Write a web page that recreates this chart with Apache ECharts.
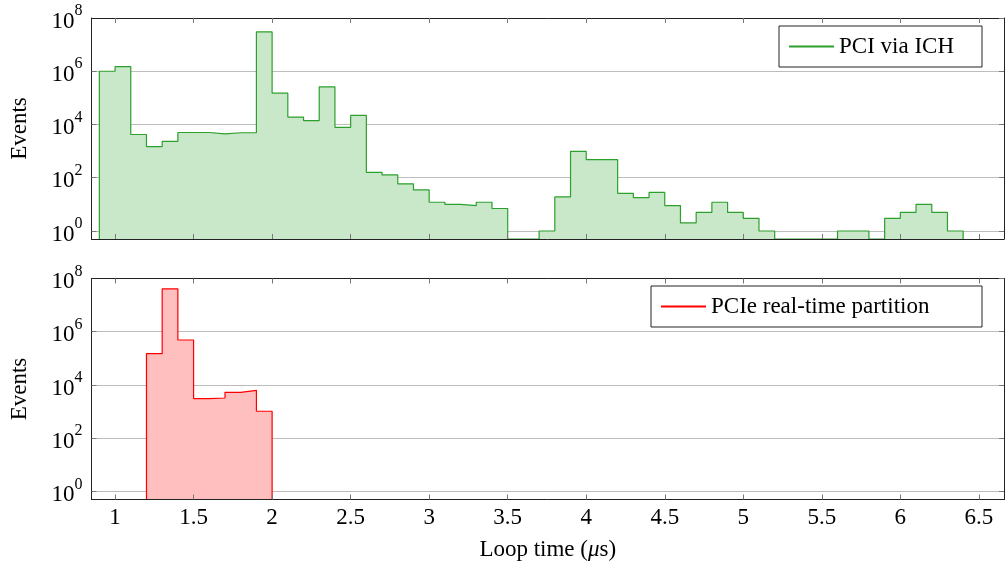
<!DOCTYPE html>
<html>
<head>
<meta charset="utf-8">
<script src="https://cdn.jsdelivr.net/npm/echarts@6/dist/echarts.min.js"></script>
<style>
  html, body { margin: 0; padding: 0; background: #fff; }
  #chart { width: 1005px; height: 570px; }
</style>
</head>
<body>
<div id="chart"></div>
<script>
// ---- Data (histogram bin edges and event counts) ----
const pciEdges = [0.9, 1.0, 1.1, 1.2, 1.3, 1.4, 1.5, 1.6, 1.7, 1.8, 1.9, 2.0, 2.1, 2.2, 2.3, 2.4, 2.5, 2.6, 2.7, 2.8,
  2.9, 3.0, 3.1, 3.2, 3.3, 3.4, 3.5, 3.6, 3.7, 3.8, 3.9, 4.0, 4.1, 4.2, 4.3, 4.4, 4.5, 4.6, 4.7, 4.8,
  4.9, 5.0, 5.1, 5.2, 5.3, 5.4, 5.5, 5.6, 5.7, 5.8, 5.9, 6.0, 6.1, 6.2, 6.3, 6.4];
const pciCounts = [1.0e6, 1.5e6, 4200, 1480, 2340, 5000, 5000, 4450, 4900, 4900,
  3.0e7, 1.5e5, 1.9e4, 1.4e4, 2.6e5, 7800, 2.2e4, 158, 128, 59,
  35, 12, 10, 9, 12, 7, 0, 0, 1, 19,
  980, 475, 475, 26, 18, 28, 9, 2, 5, 12,
  5, 3, 1, 0, 0, 0, 0, 1, 1, 0,
  3, 5, 10, 5, 1];
const pcieEdges = [1.2, 1.3, 1.4, 1.5, 1.6, 1.7, 1.8, 1.9, 2.0];
const pcieCounts = [1.5e5, 4.1e7, 4.9e5, 3100, 3250, 5300, 6300, 1030];

const xTickValues = [1, 1.5, 2, 2.5, 3, 3.5, 4, 4.5, 5, 5.5, 6, 6.5];
const yTickValues = [1, 1e2, 1e4, 1e6, 1e8];

const seriesNames = ['PCI via ICH', 'PCIe real-time partition'];

// ---- Axis limits ----
const X_MIN = 0.85, X_MAX = 6.66;
const Y_MIN = 0.5, Y_MAX = 1e8;

const FONT = 'Liberation Serif';
const FS = 23;

// Histogram outline: each bin contributes its left and right top corners;
// empty bins sit on the axis floor.
function stepData(edges, counts) {
  const pts = [[edges[0], Y_MIN]];
  for (let i = 0; i < counts.length; i++) {
    const v = counts[i] > 0 ? counts[i] : Y_MIN;
    pts.push([edges[i], v]);
    pts.push([edges[i + 1], v]);
  }
  pts.push([edges[edges.length - 1], Y_MIN]);
  return pts;
}

const chart = echarts.init(document.getElementById('chart'), null, { renderer: 'canvas' });

const tickStyle = { inside: true, length: 5, lineStyle: { color: '#777', width: 1 } };
const frameLine = { show: true, onZero: false, lineStyle: { color: '#222', width: 1 } };

function xAxes(gridIndex, withLabels) {
  return [
    {
      gridIndex, type: 'value', position: 'bottom', min: X_MIN, max: X_MAX, z: 5,
      axisLine: frameLine,
      axisTick: Object.assign({ customValues: xTickValues }, tickStyle),
      axisLabel: withLabels ? {
        show: true, customValues: xTickValues, margin: 7,
        fontFamily: FONT, fontSize: FS, color: '#000',
        formatter: v => String(v)
      } : { show: false },
      splitLine: { show: false },
      name: withLabels ? '{a|Loop time (}{i|μ}{a|s)}' : '',
      nameLocation: 'middle', nameGap: 39,
      nameTextStyle: {
        rich: {
          a: { fontFamily: FONT, fontSize: FS, color: '#000' },
          i: { fontFamily: FONT, fontSize: FS, fontStyle: 'italic', color: '#000' }
        }
      }
    },
    {
      gridIndex, type: 'value', position: 'top', min: X_MIN, max: X_MAX, z: 5,
      axisLine: frameLine,
      axisTick: Object.assign({ customValues: xTickValues }, tickStyle),
      axisLabel: { show: false },
      splitLine: { show: false }
    }
  ];
}

function yAxes(gridIndex) {
  return [
    {
      gridIndex, type: 'log', logBase: 10, position: 'left', min: Y_MIN, max: Y_MAX,
      axisLine: frameLine,
      axisTick: Object.assign({ customValues: yTickValues }, tickStyle),
      axisLabel: {
        show: true, customValues: yTickValues, margin: 9,
        formatter: v => '{b|10}{s|' + Math.round(Math.log10(v)) + '}',
        rich: {
          b: { fontFamily: FONT, fontSize: FS, color: '#000', lineHeight: 30, verticalAlign: 'bottom' },
          s: { fontFamily: FONT, fontSize: 16, color: '#000', lineHeight: 10, verticalAlign: 'top' }
        }
      },
      splitLine: { show: true, lineStyle: { color: '#bdbdbd', width: 1 } },
      name: 'Events', nameLocation: 'middle', nameGap: 60,
      nameTextStyle: { fontFamily: FONT, fontSize: FS, color: '#000' }
    },
    {
      gridIndex, type: 'log', logBase: 10, position: 'right', min: Y_MIN, max: Y_MAX, z: 5,
      axisLine: frameLine,
      axisTick: Object.assign({ customValues: yTickValues }, tickStyle),
      axisLabel: { show: false },
      splitLine: { show: false }
    }
  ];
}

function legendFor(name, top, textWidth) {
  return {
    data: [name], top: top, right: 23, orient: 'horizontal',
    selectedMode: false,
    backgroundColor: '#fff', borderColor: '#222', borderWidth: 1,
    padding: [9, 9, 9, 9],
    itemWidth: 45, itemHeight: 22, itemGap: 5,
    itemStyle: { opacity: 0 },
    textStyle: { fontFamily: FONT, fontSize: FS, color: '#000', lineHeight: 23, width: textWidth }
  };
}

const option = {
  animation: false,
  backgroundColor: '#fff',
  grid: [
    { left: 91.5, right: 1, top: 18, height: 221 },
    { left: 91.5, right: 1, top: 278.5, height: 221 }
  ],
  legend: [legendFor(seriesNames[0], 26, 134), legendFor(seriesNames[1], 286, 262)],
  xAxis: xAxes(0, false).concat(xAxes(1, true)),
  yAxis: yAxes(0).concat(yAxes(1)),
  series: [
    {
      name: seriesNames[0], type: 'line', xAxisIndex: 0, yAxisIndex: 0,
      symbol: 'none', showSymbol: false,
      data: stepData(pciEdges, pciCounts),
      lineStyle: { color: '#2ca02c', width: 1.2 },
      itemStyle: { color: '#2ca02c' },
      areaStyle: { color: '#c9e7c9', opacity: 1, origin: 'start' },
      z: 2
    },
    {
      name: seriesNames[1], type: 'line', xAxisIndex: 2, yAxisIndex: 2,
      symbol: 'none', showSymbol: false,
      data: stepData(pcieEdges, pcieCounts),
      lineStyle: { color: '#ff0000', width: 1.2 },
      itemStyle: { color: '#ff0000' },
      areaStyle: { color: '#ffbfbf', opacity: 1, origin: 'start' },
      z: 2
    }
  ]
};

chart.setOption(option);
</script>
</body>
</html>
